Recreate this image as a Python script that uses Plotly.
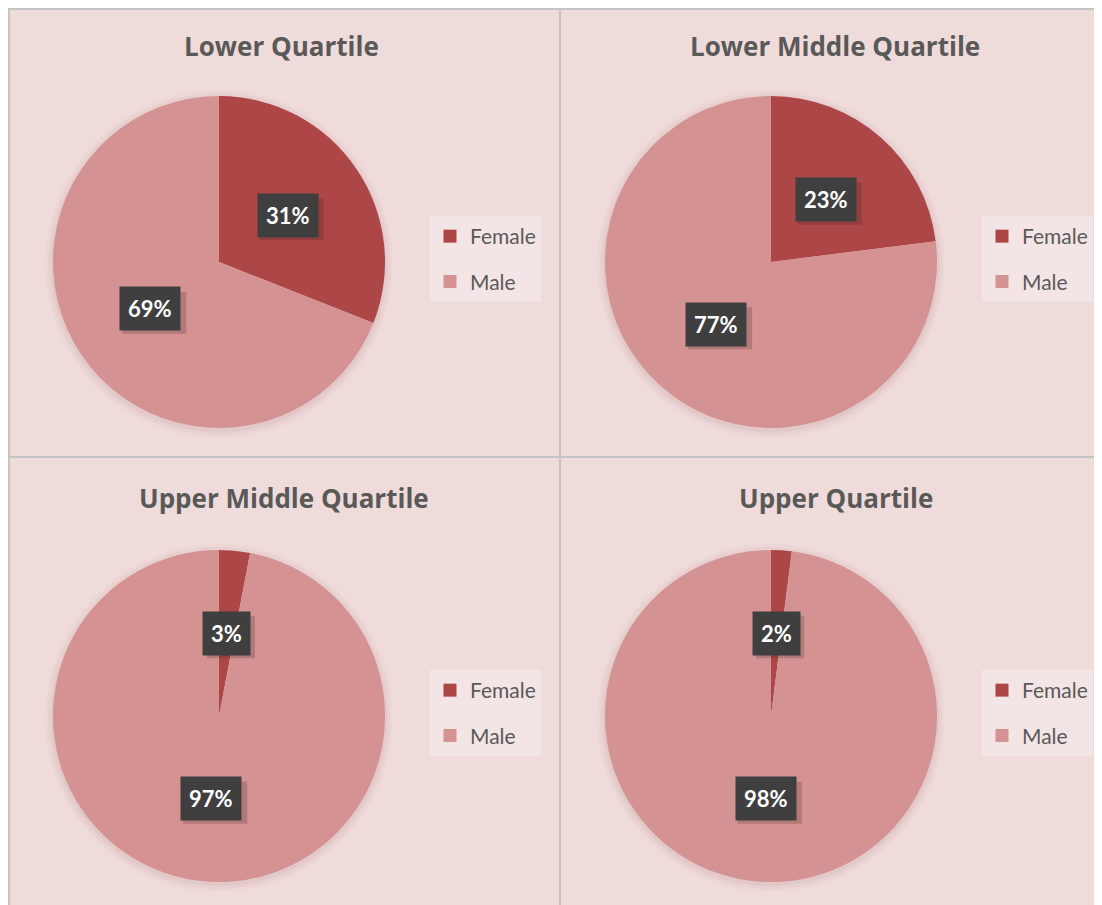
import math
import plotly.graph_objects as go

# page body has an 8px margin: the figure starts at page pixel (8, 8)
OX, OY = 8, 8
W, H = 1094, 897

titles = ["Lower Quartile", "Lower Middle Quartile", "Upper Middle Quartile", "Upper Quartile"]
labels = ["Female", "Male"]
female = [31, 23, 3, 2]
male = [69, 77, 97, 98]

colors = ["#AD4646", "#D49292"]
bg = "#F0DBDB"
txt = "#595959"

# layout (page pixels)
centers = [(219, 262), (771, 262), (219, 716), (771, 716)]
title_pos = [(281, 46), (835, 46), (284, 498), (836, 498)]
R = 166


def xp(px):
    return (px - OX) / W


def yp(py):
    return 1 - (py - OY) / H


fig = go.Figure()
annotations = []
shapes = []

legend_names = ["legend", "legend2", "legend3", "legend4"]
layout_legends = {}

for i, (t, f, m) in enumerate(zip(titles, female, male)):
    cx, cy = centers[i]
    vals = [f, m]
    fig.add_trace(go.Pie(
        labels=labels, values=vals, sort=False, direction="clockwise", rotation=0,
        marker=dict(colors=colors, line=dict(width=0)),
        textinfo="none", hoverinfo="label+percent",
        domain=dict(x=[xp(cx - R), xp(cx + R)], y=[yp(cy + R), yp(cy - R)]),
        showlegend=False,
    ))
    # legend entries
    for lab, col in zip(labels, colors):
        fig.add_trace(go.Scatter(
            x=[None], y=[None], mode="markers", name=lab,
            marker=dict(symbol="square", size=13, color=col),
            legend=legend_names[i], legendgroup=f"p{i}{lab}", showlegend=True,
            hoverinfo="skip",
        ))
    # soft shadow around the pie
    for k, op in [(8, 0.025), (5, 0.035), (2, 0.05)]:
        shapes.append(dict(type="circle", xref="paper", yref="paper", layer="below",
                           x0=xp(cx - R - k), x1=xp(cx + R + k),
                           y0=yp(cy + R + k + 2), y1=yp(cy - R - k + 2),
                           fillcolor=f"rgba(120,60,60,{op})", line=dict(width=0)))
    # data labels
    total = sum(vals)
    cum = 0
    for v in vals:
        ang = math.radians(360 * (cum + v / 2) / total)
        cum += v
        lx = cx + 0.5 * R * math.sin(ang)
        ly = cy - 0.5 * R * math.cos(ang)
        pct = round(100 * v / total)
        hw = 32 if pct >= 10 else 24
        # drop shadow behind the label box
        shapes.append(dict(type="rect", xref="paper", yref="paper", layer="above",
                           x0=xp(lx - hw + 4), x1=xp(lx + hw + 4),
                           y0=yp(ly + 21 + 4), y1=yp(ly - 21 + 4),
                           fillcolor="rgba(60,30,30,0.22)", line=dict(width=0)))
        annotations.append(dict(x=xp(lx), y=yp(ly), xref="paper", yref="paper",
                                xanchor="center", yanchor="middle",
                                text=f"<b>{pct}%</b>", showarrow=False,
                                font=dict(family="Lato", size=22, color="white"),
                                bgcolor="#3F3F3F", borderpad=8))
    # title
    tx, ty = title_pos[i]
    annotations.append(dict(x=xp(tx), y=yp(ty), xref="paper", yref="paper",
                            xanchor="center", yanchor="middle",
                            text=f"<b>{t}</b>", showarrow=False,
                            font=dict(family="Open Sans", size=26, color=txt)))
    layout_legends[legend_names[i]] = dict(
        x=xp(cx + 211), y=yp(cy - 46), xanchor="left", yanchor="top",
        bgcolor="#F3E5E5", font=dict(family="Lato", size=21, color=txt),
        borderwidth=0, itemclick=False, itemdoubleclick=False, tracegroupgap=15,
    )

# panel borders
grey = "#C4C4C4"
for (x0, y0, x1, y1) in [(8, 9, 1102, 9), (9, 8, 9, 905), (560, 8, 560, 905), (8, 457, 1102, 457)]:
    shapes.append(dict(type="line", xref="paper", yref="paper",
                       x0=xp(x0), y0=yp(y0), x1=xp(x1), y1=yp(y1),
                       line=dict(color=grey, width=2)))

fig.update_layout(
    width=W, height=H, margin=dict(l=0, r=0, t=0, b=0),
    paper_bgcolor=bg, plot_bgcolor=bg,
    xaxis=dict(visible=False), yaxis=dict(visible=False),
    shapes=shapes,
    annotations=annotations,
    **layout_legends,
)

fig.write_html("out.html")
